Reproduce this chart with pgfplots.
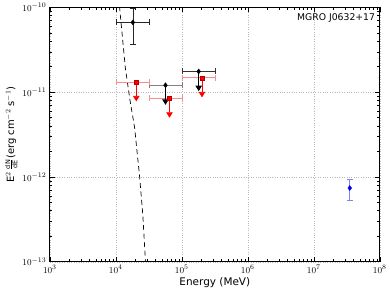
\documentclass[border=0pt]{standalone}
\usepackage{pgfplots}
\pgfplotsset{compat=1.18}
\usepackage{fontspec}
\setmainfont{DejaVu Sans}
\usetikzlibrary{arrows.meta}
\begin{document}
\begin{tikzpicture}
\begin{axis}[
  scale only axis,
  width=331pt, height=255pt,
  xmode=log, ymode=log,
  xmin=1e3, xmax=1e8, ymin=1e-13, ymax=1e-10,
  xtick={1e3,1e4,1e5,1e6,1e7,1e8},
  ytick={1e-13,1e-12,1e-11,1e-10},
  tick align=inside,
  major tick length=5pt, minor tick length=2.5pt,
  axis line style={line width=1.1pt},
  every tick/.style={black, line width=0.5pt},
  grid=major,
  major grid style={dotted, gray!55, line width=0.4pt},
  tick label style={font=\fontsize{9.5}{11}\selectfont},
  xlabel={Energy (MeV)},
  xlabel style={font=\fontsize{10.5}{12}\selectfont, yshift=3pt},
  ylabel={E$^{2}\,\frac{\mbox{\fontsize{6.5}{7}\selectfont dN}}{\mbox{\fontsize{6.5}{7}\selectfont dE}}$(erg cm$^{-2}$ s$^{-1}$)},
  ylabel style={font=\fontsize{10}{12}\selectfont, yshift=-2pt},
  error bars/error bar style={line width=0.7pt},
  error bars/error mark options={rotate=90, mark size=3pt, line width=0.6pt},
]
% model curve
\addplot[black, line width=0.7pt, dash pattern=on 5pt off 3.5pt] coordinates {
  (1.10e4,1.3e-10) (1.14e4,1e-10) (1.392e4,1.94e-11) (1.644e4,7.9e-12) (1.923e4,3.85e-12)
  (2.288e4,1.02e-12) (2.564e4,3.55e-13) (2.79e4,1.11e-13) (2.83e4,9e-14)};
% black detected point
\addplot[draw=none, mark=none,
  error bars/.cd, x dir=both, x explicit, y dir=both, y explicit,
  error bar style={black!85}, error mark options={black!85, rotate=90, mark size=3pt}]
  coordinates {(1.81e4,6.67e-11) += (1.352e4,3.13e-11) -= (0.81e4,3.02e-11)};
% black upper limits error bars
\addplot[draw=none, mark=none,
  error bars/.cd, x dir=both, x explicit,
  error bar style={black!50}, error mark options={black!50, rotate=90, mark size=3pt}]
  coordinates {(5.65e4,1.21e-11) += (4.35e4,0) -= (2.488e4,0)};
\addplot[draw=none, mark=none,
  error bars/.cd, x dir=both, x explicit,
  error bar style={black!80}, error mark options={black!80, rotate=90, mark size=3pt}]
  coordinates {(1.8e5,1.76e-11) += (1.362e5,0) -= (0.8e5,0)};
% red upper limits error bars
\addplot[draw=none, mark=none,
  error bars/.cd, x dir=both, x explicit,
  error bar style={red!45}, error mark options={red!45, rotate=90, mark size=3pt}]
  coordinates {(2.04e4,1.32e-11) += (1.122e4,0) -= (1.04e4,0)
               (6.5e4,8.5e-12) += (3.5e4,0) -= (3.338e4,0)
               (2.02e5,1.48e-11) += (1.142e5,0) -= (1.02e5,0)};
% upper-limit arrows
\addplot[black, line width=0.8pt, -{Triangle[width=6.5pt,length=5.5pt]}] coordinates {(5.65e4,1.21e-11) (5.65e4,7.1e-12)};
\addplot[black, line width=0.8pt, -{Triangle[width=6.5pt,length=5.5pt]}] coordinates {(1.8e5,1.76e-11) (1.8e5,1.03e-11)};
\addplot[red, line width=0.8pt, -{Triangle[width=6.5pt,length=5.5pt]}] coordinates {(2.04e4,1.32e-11) (2.04e4,7.8e-12)};
\addplot[red, line width=0.8pt, -{Triangle[width=6.5pt,length=5.5pt]}] coordinates {(6.5e4,8.5e-12) (6.5e4,5.0e-12)};
\addplot[red, line width=0.8pt, -{Triangle[width=6.5pt,length=5.5pt]}] coordinates {(2.02e5,1.48e-11) (2.02e5,8.7e-12)};
% markers
\addplot[only marks, mark=diamond*, mark size=2.5pt, black] coordinates {(1.81e4,6.67e-11) (5.65e4,1.21e-11) (1.8e5,1.76e-11)};
\addplot[only marks, mark=square*, mark size=2pt, draw=red!70!black, fill=red] coordinates {(2.04e4,1.32e-11) (6.5e4,8.5e-12) (2.02e5,1.48e-11)};
% blue point
\addplot[draw=none, mark=none,
  error bars/.cd, y dir=both, y explicit,
  error bar style={blue!50, line width=0.9pt}, error mark options={blue!50, rotate=90, mark size=3pt}]
  coordinates {(3.5e7,7.4e-13) += (0,1.9e-13) -= (0,2.1e-13)};
\addplot[only marks, mark=diamond*, mark size=2.5pt, blue] coordinates {(3.5e7,7.4e-13)};
\node[anchor=north east, font=\fontsize{9.3}{11}\selectfont, inner sep=0pt] at (rel axis cs:0.986,0.975) {MGRO J0632+17};
\end{axis}
\path (current axis.south west) ++(-50pt,-34pt) rectangle ++(390pt,295pt);
\end{tikzpicture}
\end{document}
